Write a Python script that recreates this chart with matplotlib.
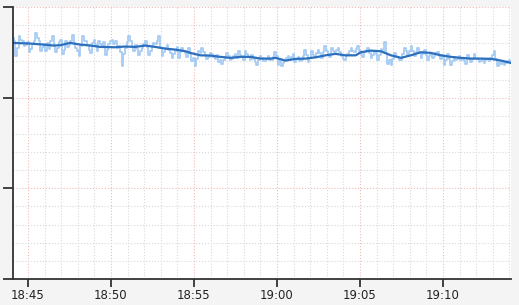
#!/usr/bin/env python3
import matplotlib
matplotlib.use('Agg')
import matplotlib.pyplot as plt
import matplotlib.dates as mdates
from matplotlib.ticker import MultipleLocator
import pandas as pd

# raw samples, one every 6 s starting 18:44:06
raw_start = '2000-01-01 18:44:06'
raw_step = '6s'
raw_vals = [
    266, 262, 246, 255, 268, 264, 262, 257, 258, 261, 250, 254, 259, 263, 271, 266, 263, 252, 256, 259,
    252, 260, 254, 263, 268, 257, 250, 255, 261, 264, 248, 253, 262, 256, 258, 263, 269, 260, 255, 251,
    246, 257, 268, 263, 262, 258, 253, 249, 260, 264, 258, 252, 262, 259, 256, 261, 247, 253, 259, 262,
    264, 259, 262, 255, 257, 250, 235, 248, 255, 261, 268, 262, 256, 251, 258, 254, 247, 252, 255, 259,
    262, 256, 247, 251, 256, 260, 259, 263, 268, 255, 246, 250, 255, 258, 253, 249, 244, 248, 252, 256,
    244, 250, 255, 252, 249, 245, 255, 248, 240, 244, 235, 243, 252, 249, 255, 250, 247, 243, 245, 249,
    248, 245, 243, 247, 239, 242, 237, 241, 244, 249, 246, 241, 243, 246, 248, 244, 251, 247, 246, 242,
    251, 248, 245, 241, 247, 243, 239, 236, 242, 246, 244, 240, 240, 243, 246, 242, 241, 245, 250, 246,
    236, 240, 235, 238, 240, 244, 246, 242, 245, 248, 239, 243, 245, 240, 241, 246, 253, 247, 239, 244,
    251, 247, 245, 249, 253, 249, 244, 250, 257, 252, 248, 245, 255, 251, 250, 253, 255, 250, 246, 243,
    242, 246, 248, 252, 255, 251, 250, 254, 257, 252, 248, 245, 250, 253, 255, 249, 244, 247, 252, 248,
    242, 247, 254, 250, 261, 249, 237, 241, 236, 243, 249, 246, 245, 241, 242, 248, 255, 251, 247, 251,
    257, 252, 246, 250, 255, 249, 244, 248, 253, 247, 242, 246, 248, 244, 246, 249, 250, 246, 243, 247,
    236, 241, 248, 243, 236, 240, 245, 242, 243, 246, 241, 244, 240, 237, 247, 243, 239, 243, 248, 244,
    243, 239, 240, 243, 238, 241, 243, 240, 244, 247, 251, 243, 235, 239, 237, 240, 236, 238, 240, 242, 239,
]

# smoothed trend
smooth_times = [
    '18:44:06', '18:45:07', '18:45:54', '18:46:31', '18:46:56', '18:47:32',
    '18:48:08', '18:48:45', '18:49:21', '18:50:15', '18:50:51', '18:51:28',
    '18:52:04', '18:52:40', '18:53:16', '18:53:53', '18:54:29', '18:54:47',
    '18:55:23', '18:55:59', '18:56:36', '18:57:12', '18:57:48', '18:58:24',
    '18:59:01', '18:59:37', '18:59:55', '19:00:31', '19:01:07', '19:01:44',
    '19:02:20', '19:02:56', '19:03:32', '19:04:08', '19:04:45', '19:05:03',
    '19:05:39', '19:06:15', '19:06:52', '19:07:28', '19:08:04', '19:08:40',
    '19:09:16', '19:09:53', '19:10:29', '19:11:05', '19:11:41', '19:12:18',
    '19:12:54', '19:13:30', '19:14:06',
]
smooth_vals = [
    260.4, 259.7, 258.6, 257.5, 257.8, 260.4, 258.6, 257.5, 256.0, 255.6,
    256.4, 256.0, 257.5, 256.0, 254.1, 253.0, 251.2, 249.4, 246.7, 246.4,
    245.0, 243.9, 245.0, 245.0, 243.1, 243.1, 243.9, 240.9, 242.8, 243.1,
    244.5, 246.7, 248.3, 246.7, 246.7, 250.1, 251.9, 251.2, 246.7, 243.9,
    246.7, 250.1, 249.4, 246.7, 245.0, 243.9, 243.1, 243.1, 242.8, 240.9,
    238.3,
]

raw_t = pd.date_range(raw_start, periods=len(raw_vals), freq=raw_step)
smooth_t = pd.to_datetime(['2000-01-01 ' + s for s in smooth_times])

fig = plt.figure(figsize=(5.19, 3.05), dpi=100, facecolor='#f4f4f4')
ax = fig.add_axes([13/519, 26/305, 498/519, 272/305])
ax.set_facecolor('white')

ax.plot(raw_t, raw_vals, drawstyle='steps-mid', color='#a4cbf2', lw=1.25)
ax.plot(smooth_t, smooth_vals, color='#2b6fbd', lw=1.6)

ax.set_xlim(raw_t[0], raw_t[-1])
ax.set_ylim(0, 300)
ax.yaxis.set_major_locator(MultipleLocator(100))
ax.yaxis.set_minor_locator(MultipleLocator(20))
ax.xaxis.set_major_locator(mdates.MinuteLocator(byminute=range(0, 60, 5)))
ax.xaxis.set_minor_locator(mdates.MinuteLocator())
ax.xaxis.set_major_formatter(mdates.DateFormatter('%H:%M'))

ax.grid(which='major', color='#f3b9b9', ls=':', lw=0.8)
ax.grid(which='minor', color='#d9d9d9', ls=':', lw=0.8)
ax.set_axisbelow(True)

for s in ['top', 'right']:
    ax.spines[s].set_visible(False)
for s in ['left', 'bottom']:
    ax.spines[s].set_color('#333333')
    ax.spines[s].set_linewidth(1.3)

ax.tick_params(axis='y', which='major', length=7, width=1.3, color='#333333', labelleft=False)
ax.tick_params(axis='y', which='minor', length=0)
ax.tick_params(axis='x', which='major', length=6, width=1.3, color='#333333',
               labelsize=8.5, labelcolor='#222222', pad=1.5)
ax.tick_params(axis='x', which='minor', length=0)

fig.savefig('out.png', dpi=100, facecolor=fig.get_facecolor())
